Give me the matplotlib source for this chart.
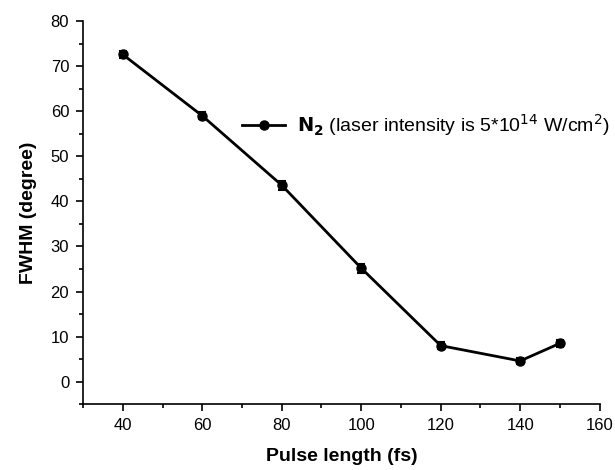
import matplotlib
matplotlib.use('Agg')
import matplotlib.pyplot as plt
from matplotlib.ticker import MultipleLocator

plt.rcParams['font.family'] = ['Liberation Sans', 'DejaVu Sans']

# 数据
pulse = [40, 60, 80, 100, 120, 140, 150]
fwhm = [72.6, 59.0, 43.6, 25.2, 8.0, 4.6, 8.5]
err = [0.8, 0.8, 1.0, 1.0, 0.7, 0.6, 0.7]

fig = plt.figure(figsize=(6.15, 4.7), dpi=100)
ax = fig.add_axes([0.135, 0.140, 0.840, 0.815])

ax.errorbar(pulse, fwhm, yerr=err, color='black', lw=2, marker='o', markersize=6.5,
            capsize=3, elinewidth=1.5, capthick=1.5)
# 图例只要线+圆点
ax.plot([], [], color='black', lw=2, marker='o', markersize=6.5,
        label=r'$\mathbf{N_2}$ (laser intensity is 5*10$^{14}$ W/cm$^2$)')

ax.set_xlim(30, 160)
ax.set_ylim(-5, 80)
ax.xaxis.set_major_locator(MultipleLocator(20))
ax.xaxis.set_minor_locator(MultipleLocator(10))
ax.yaxis.set_major_locator(MultipleLocator(10))
ax.yaxis.set_minor_locator(MultipleLocator(5))
ax.spines['top'].set_visible(False)
ax.spines['right'].set_visible(False)
for s in ('left', 'bottom'):
    ax.spines[s].set_linewidth(1.2)
ax.tick_params(which='major', direction='out', length=5, width=1.2, labelsize=12, pad=5)
ax.tick_params(which='minor', direction='out', length=3, width=1.2)

ax.set_xlabel('Pulse length (fs)', fontsize=14, fontweight='bold', labelpad=11)
ax.set_ylabel('FWHM (degree)', fontsize=14, fontweight='bold', labelpad=10)

ax.legend(loc='center left', bbox_to_anchor=(0.308, 0.728), frameon=False,
          borderpad=0, borderaxespad=0,
          fontsize=14, handlelength=2.2, handletextpad=0.6)

fig.savefig('out.png', dpi=100)
